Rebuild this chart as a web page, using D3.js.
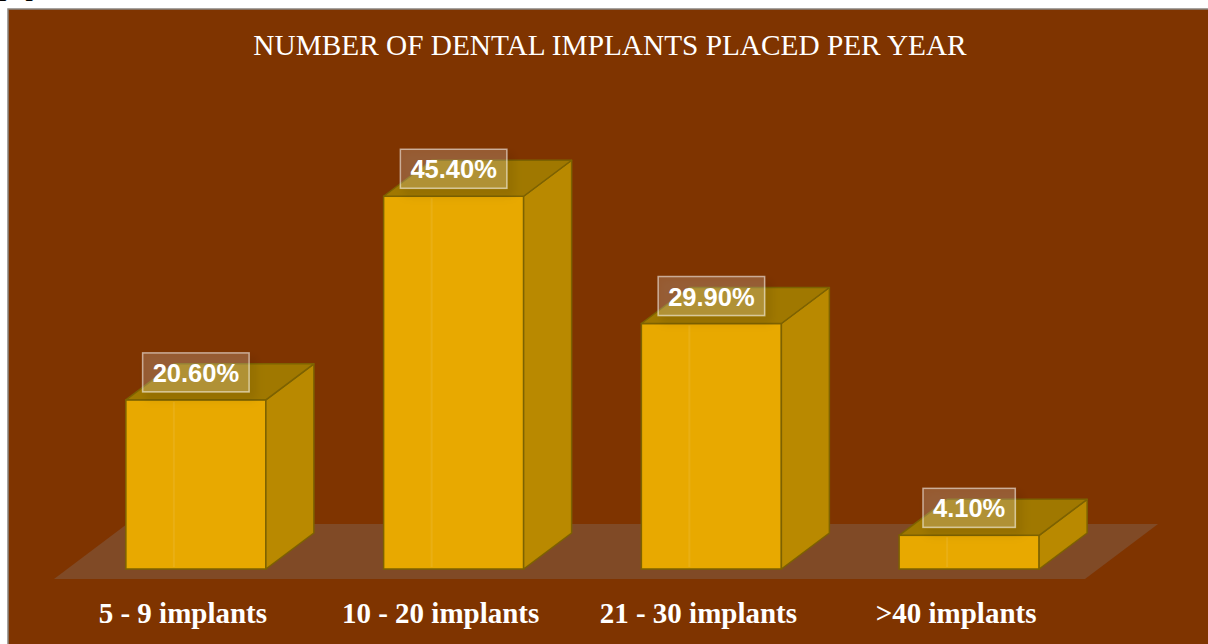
<!DOCTYPE html>
<html>
<head>
<meta charset="utf-8">
<script src="https://cdn.jsdelivr.net/npm/d3@7"></script>
<style>
  html, body { margin: 0; padding: 0; background: #fff; overflow: hidden; }
</style>
</head>
<body>
<svg id="chart" width="1208" height="644"></svg>
<script>
// chart data
var categories = ["5 - 9 implants", "10 - 20 implants", "21 - 30 implants", ">40 implants"];
var values = [20.6, 45.4, 29.9, 4.1];
var valueLabels = ["20.60%", "45.40%", "29.90%", "4.10%"];
var chartTitle = "NUMBER OF DENTAL IMPLANTS PLACED PER YEAR";

var svg = d3.select("#chart");
var width = +svg.attr("width"),
    height = +svg.attr("height");

// oblique 3d offsets
var floorDepth = [73, -55],
    barShift = [13, -10],
    barDepth = [48, -36],
    barWidth = 140;

var floorY = 579;

var x = d3.scaleBand()
  .domain(categories)
  .range([54, 1085])
  .padding(0);

var y = d3.scaleLinear()
  .domain([0, 50])
  .range([floorY + barShift[1], 158.5]);

var defs = svg.append("defs");
var shadow = defs.append("filter")
  .attr("id", "lblShadow")
  .attr("x", "-30%").attr("y", "-30%")
  .attr("width", "160%").attr("height", "180%");
shadow.append("feDropShadow")
  .attr("dx", 5).attr("dy", 6)
  .attr("stdDeviation", 5)
  .attr("flood-color", "#000")
  .attr("flood-opacity", 0.35);

// stray text cut off at top of page
svg.append("text")
  .attr("x", -1).attr("y", -4)
  .style("font-family", "'Liberation Serif', 'Times New Roman', serif")
  .style("font-weight", "bold")
  .style("font-size", "26px")
  .style("letter-spacing", "12px")
  .attr("fill", "#000")
  .text("pp");

// panel
svg.append("rect")
  .attr("x", 8).attr("y", 9)
  .attr("width", width + 10).attr("height", height + 10)
  .attr("fill", "#7f3400")
  .attr("stroke", "#8a8580")
  .attr("stroke-width", 1.5);

// title
svg.append("text")
  .attr("x", 610).attr("y", 55)
  .attr("text-anchor", "middle")
  .style("font-family", "'Liberation Serif', 'Times New Roman', serif")
  .style("font-size", "29.3px")
  .attr("fill", "#fff")
  .text(chartTitle);

// floor
var x0 = x.range()[0], x1 = x.range()[1];
svg.append("path")
  .attr("d", d3.line()([
    [x0, floorY], [x1, floorY],
    [x1 + floorDepth[0], floorY + floorDepth[1]],
    [x0 + floorDepth[0], floorY + floorDepth[1]]
  ]) + "Z")
  .attr("fill", "#804a26");

// bars
var bars = svg.selectAll(".bar")
  .data(values)
  .enter().append("g")
    .attr("class", "bar");

function frontLeft(d, i) { return x(categories[i]) + x.bandwidth() / 2 + barShift[0] - barWidth / 2; }

bars.each(function(d, i) {
  var g = d3.select(this);
  var l = frontLeft(d, i), r = l + barWidth;
  var top = y(d), base = y(0);
  var dx = barDepth[0], dy = barDepth[1];

  g.append("rect")
    .attr("x", l).attr("y", top)
    .attr("width", barWidth).attr("height", base - top)
    .attr("fill", "#e8a900")
    .attr("stroke", "#7d6200")
    .attr("stroke-width", 1.5);

  g.append("line")
    .attr("x1", l + 48).attr("x2", l + 48)
    .attr("y1", top + 2).attr("y2", base - 2)
    .attr("stroke", "#fff")
    .attr("stroke-opacity", 0.08)
    .attr("stroke-width", 2);

  g.append("path")
    .attr("d", d3.line()([[r, top], [r + dx, top + dy], [r + dx, base + dy], [r, base]]) + "Z")
    .attr("fill", "#b98900")
    .attr("stroke", "#7d6200")
    .attr("stroke-width", 1.5)
    .attr("stroke-linejoin", "round");

  g.append("path")
    .attr("d", d3.line()([[l, top], [l + dx, top + dy], [r + dx, top + dy], [r, top]]) + "Z")
    .attr("fill", "#a07800")
    .attr("stroke", "#7d6200")
    .attr("stroke-width", 1.5)
    .attr("stroke-linejoin", "round");
});

// value labels
var labels = svg.selectAll(".vlabel")
  .data(values)
  .enter().append("g")
    .attr("class", "vlabel");

labels.each(function(d, i) {
  var g = d3.select(this);
  var cx = frontLeft(d, i) + barWidth / 2;
  var bottom = y(d) - 8;
  var txt = g.append("text")
    .attr("x", cx)
    .attr("y", bottom - 10)
    .attr("text-anchor", "middle")
    .style("font-family", "'Liberation Sans', Arial, sans-serif")
    .style("font-weight", "bold")
    .style("font-size", "25.5px")
    .attr("fill", "#fff")
    .text(valueLabels[i]);
  var w = txt.node().getComputedTextLength() + 20;
  g.insert("rect", "text")
    .attr("x", cx - w / 2).attr("y", bottom - 39)
    .attr("width", w).attr("height", 39)
    .attr("fill", "#fff")
    .attr("fill-opacity", 0.18)
    .attr("stroke", "#fff")
    .attr("stroke-opacity", 0.55)
    .attr("stroke-width", 1.5)
    .attr("filter", "url(#lblShadow)");
});

// category labels
svg.selectAll(".clabel")
  .data(categories)
  .enter().append("text")
    .attr("class", "clabel")
    .attr("x", function(d) { return x(d) + x.bandwidth() / 2; })
    .attr("y", 623)
    .attr("text-anchor", "middle")
    .style("font-family", "'Liberation Serif', 'Times New Roman', serif")
    .style("font-weight", "bold")
    .style("font-size", "29px")
    .attr("fill", "#fff")
    .text(function(d) { return d; });
</script>
</body>
</html>
